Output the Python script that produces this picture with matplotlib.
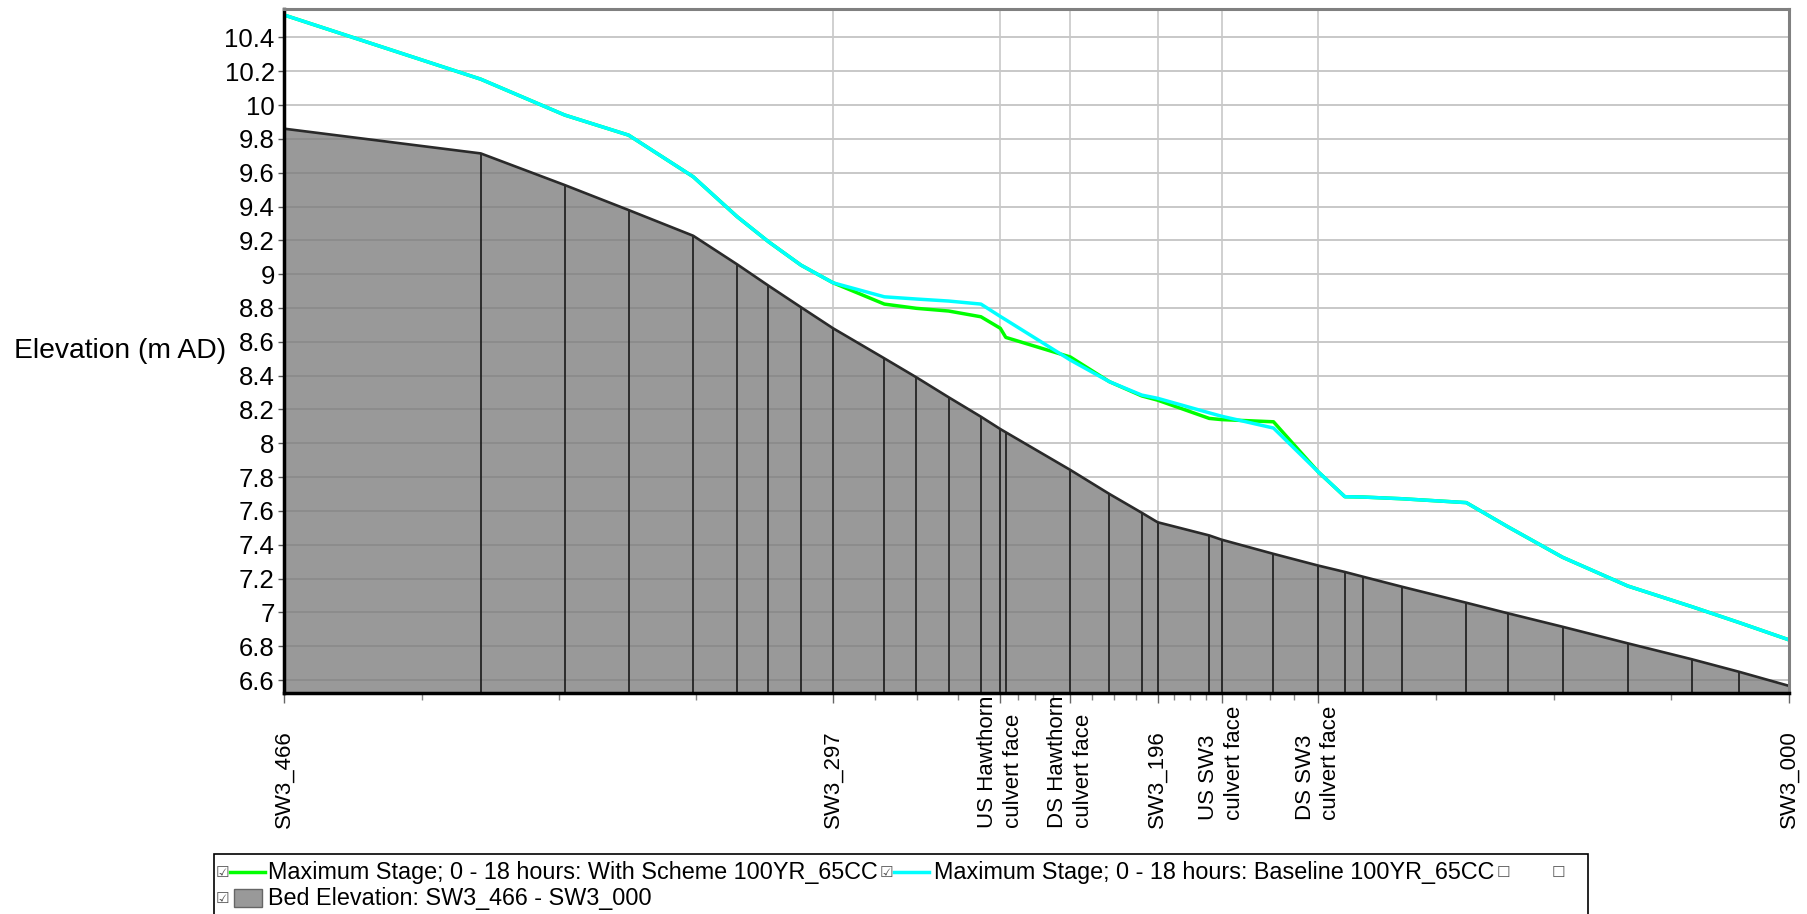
import matplotlib
matplotlib.use('Agg')
import matplotlib.pyplot as plt
import matplotlib.transforms as mtransforms
from matplotlib.patches import Rectangle
from matplotlib.lines import Line2D
import numpy as np

plt.rcParams['font.family'] = ['Liberation Sans', 'DejaVu Sans']

# ---------------- data ----------------
# distance downstream from SW3_466 (m)
distance_m = [0, 60.8, 86.8, 106.6, 126.6, 140.2, 149.9, 160.0, 169.9, 185.8,
              195.7, 205.7, 215.7, 221.7, 223.4, 243.4, 255.5, 265.5, 270.4,
              286.4, 290.2, 306.3, 320.1, 328.4, 334.0, 346.0, 366.0, 378.8,
              395.8, 416.0, 435.8, 450.6, 466.0]
bed_elevation = [9.860, 9.714, 9.527, 9.379, 9.227, 9.058, 8.932, 8.804, 8.680, 8.502,
                 8.390, 8.272, 8.157, 8.084, 8.065, 7.842, 7.700, 7.589, 7.533,
                 7.455, 7.430, 7.346, 7.277, 7.239, 7.211, 7.152, 7.057, 6.995,
                 6.915, 6.817, 6.723, 6.648, 6.565]
stage_baseline = [10.532, 10.153, 9.941, 9.822, 9.576, 9.340, 9.192, 9.053, 8.949, 8.866,
                  8.853, 8.841, 8.823, 8.750, 8.730, 8.492, 8.364, 8.285, 8.266,
                  8.180, 8.160, 8.090, 7.832, 7.684, 7.682, 7.672, 7.649, 7.507,
                  7.326, 7.156, 7.034, 6.939, 6.837]
stage_scheme = [10.532, 10.153, 9.941, 9.822, 9.576, 9.340, 9.192, 9.053, 8.949, 8.823,
                8.798, 8.782, 8.748, 8.680, 8.626, 8.510, 8.364, 8.280, 8.255,
                8.147, 8.140, 8.127, 7.832, 7.684, 7.682, 7.672, 7.649, 7.507,
                7.326, 7.156, 7.034, 6.939, 6.837]

label_positions = [0, 169.9, 221.7, 243.4, 270.4, 290.2, 320.1, 466.0]
label_texts = ['SW3_466', 'SW3_297', 'US Hawthorn\nculvert face', 'DS Hawthorn\nculvert face',
               'SW3_196', 'US SW3\nculvert face', 'DS SW3\nculvert face', 'SW3_000']
label_bottom_px = [828, 828, 828, 828, 828, 820, 820, 828]

y_ticks = [6.6, 6.8, 7.0, 7.2, 7.4, 7.6, 7.8, 8.0, 8.2, 8.4, 8.6, 8.8, 9.0, 9.2,
           9.4, 9.6, 9.8, 10.0, 10.2, 10.4]

legend_scheme = 'Maximum Stage; 0 - 18 hours: With Scheme 100YR_65CC'
legend_base = 'Maximum Stage; 0 - 18 hours: Baseline 100YR_65CC'
legend_bed = 'Bed Elevation: SW3_466 - SW3_000'

# ---------------- figure ----------------
W, H = 1807, 914
fig = plt.figure(figsize=(W / 100, H / 100), dpi=100)
fig.patch.set_facecolor('white')

def fx(px):
    return px / W

def fy(py):
    return 1 - py / H

ax_l, ax_r, ax_t, ax_b = 284.4, 1789.2, 9.0, 692.7
ax = fig.add_axes([fx(ax_l), fy(ax_b), (ax_r - ax_l) / W, (ax_b - ax_t) / H])

ymin, ymax = 6.525, 10.568
ax.set_xlim(0, 466.0)
ax.set_ylim(ymin, ymax)

# grid
for yv in y_ticks:
    ax.axhline(yv, color='#c8c8c8', lw=1.4, zorder=1)
for xv in label_positions[1:-1]:
    ax.axvline(xv, color='#c8c8c8', lw=1.2, zorder=1)

# bed
ax.fill_between(distance_m, bed_elevation, ymin, facecolor=(0.476, 0.476, 0.476),
                alpha=0.76, lw=0, zorder=2)
ax.vlines(distance_m, ymin, bed_elevation, colors='#1a1a1a', lw=1.2, zorder=3)
ax.plot(distance_m, bed_elevation, color='#2a2a2a', lw=1.9, zorder=3)

# stages
ax.plot(distance_m, stage_scheme, color='#00ff00', lw=2.5, zorder=4)
ax.plot(distance_m, stage_baseline, color='#00ffff', lw=2.5, zorder=5)

# spines
ax.spines['left'].set_color('black')
ax.spines['left'].set_linewidth(2.5)
ax.spines['bottom'].set_color('black')
ax.spines['bottom'].set_linewidth(2.5)
for s in ('top', 'right'):
    ax.spines[s].set_color('#808080')
    ax.spines[s].set_linewidth(2.2)
for s in ax.spines.values():
    s.set_zorder(6)

# y ticks
ax.set_yticks(y_ticks)
ax.set_yticklabels(['%g' % v for v in y_ticks], fontsize=18.5)
ax.tick_params(axis='y', length=4, width=1, color='#555555', pad=3)

# x ticks
ax.set_xticks(label_positions)
ax.set_xticklabels([])
minor = []
for a, b in zip(label_positions[:-1], label_positions[1:]):
    for k in (1, 2, 3):
        minor.append(a + (b - a) * k / 4)
ax.set_xticks(minor, minor=True)
ax.tick_params(axis='x', which='major', length=7, width=1, color='#666666')
ax.tick_params(axis='x', which='minor', length=5, width=1, color='#888888')

# x labels (rotated)
trans = mtransforms.blended_transform_factory(ax.transData, fig.transFigure)
for xv, txt, bpx in zip(label_positions, label_texts, label_bottom_px):
    ax.text(xv, fy(bpx), txt, transform=trans, rotation=90, ha='center', va='bottom',
            multialignment='left', fontsize=16, linespacing=1.3, clip_on=False)

# y label
fig.text(fx(14), fy(351), 'Elevation (m AD)', fontsize=20.3, ha='left', va='center')

# ---------------- legend ----------------
fig.patches.append(Rectangle((fx(214), fy(916)), (1588 - 214) / W, (916 - 854) / H,
                             transform=fig.transFigure, facecolor='white',
                             edgecolor='black', lw=1.2))
r1, r2 = 872, 898
cb_kw = dict(fontsize=11, ha='center', va='center', color='#555555',
             family=['DejaVu Sans'])
fig.text(fx(222), fy(r1), '\u2611', **cb_kw)
fig.lines.append(Line2D([fx(230), fx(265)], [fy(r1), fy(r1)], color='#00ff00', lw=2.5,
                        transform=fig.transFigure))
fig.text(fx(268.5), fy(r1), legend_scheme, fontsize=16.8, ha='left', va='center')
fig.text(fx(886), fy(r1), '\u2611', **cb_kw)
fig.lines.append(Line2D([fx(894), fx(929)], [fy(r1), fy(r1)], color='#00ffff', lw=2.5,
                        transform=fig.transFigure))
fig.text(fx(933.5), fy(r1), legend_base, fontsize=16.8, ha='left', va='center')
fig.text(fx(1503), fy(r1), '\u2610', **cb_kw)
fig.text(fx(1558), fy(r1), '\u2610', **cb_kw)

fig.text(fx(222), fy(r2), '\u2611', **cb_kw)
fig.patches.append(Rectangle((fx(234), fy(r2 + 9)), (261.6 - 234) / W, 18 / H,
                             transform=fig.transFigure, facecolor='#999999',
                             edgecolor='#666666', lw=1))
fig.text(fx(268.5), fy(r2), legend_bed, fontsize=16.8, ha='left', va='center')

fig.savefig('out.png', dpi=100, facecolor='white')
